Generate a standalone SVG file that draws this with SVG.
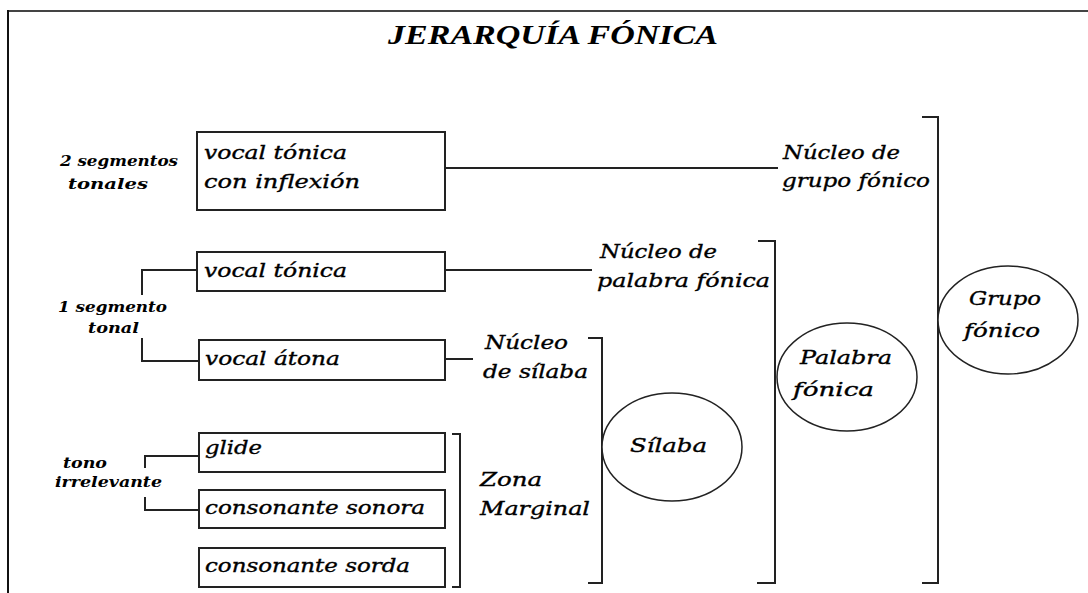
<svg xmlns="http://www.w3.org/2000/svg" width="1088" height="593" viewBox="0 0 1088 593">
<style>
text{font-family:"DejaVu Serif","Liberation Serif",serif;font-style:italic;fill:#000}
.t{font-family:"Liberation Serif","DejaVu Serif",serif;font-size:28px;font-weight:bold}
.b,.l,.e{stroke:#000;stroke-width:0.35}
.b{font-size:18px}
.s{font-size:14px;font-weight:bold}
.l{font-size:18px}
.e{font-size:19px}
.box{fill:#fff;stroke:#222;stroke-width:2}
.ell{fill:#fff;stroke:#222;stroke-width:1.5}
.c{fill:none;stroke:#222;stroke-width:2}
</style>
<rect width="1088" height="593" fill="#fff"/>
<g id="frame">
<line x1="8" y1="11" x2="1088" y2="11" stroke="#444" stroke-width="2"/>
<line x1="8" y1="10" x2="8" y2="593" stroke="#111" stroke-width="2"/>
</g>
<text class="t" x="388" y="44" textLength="330" lengthAdjust="spacingAndGlyphs">JERARQUÍA FÓNICA</text>
<g id="connectors">
<path class="c" d="M445,168H778"/>
<path class="c" d="M445,270H592"/>
<path class="c" d="M445,359H473"/>
<path class="c" d="M197,270H142V295"/>
<path class="c" d="M142,338V361H199"/>
<path class="c" d="M199,456H145V468"/>
<path class="c" d="M145,497V510H199"/>
<path class="c" d="M452,434H460V587H452"/>
<path class="c" d="M588,338H602V583H588"/>
<path class="c" d="M758,241H775V583H757"/>
<path class="c" d="M922,117H938V583H922"/>
</g>
<g id="lbl-2seg">
<text class="s" x="60" y="166" textLength="118" lengthAdjust="spacingAndGlyphs">2 segmentos</text>
<text class="s" x="68" y="189" textLength="80" lengthAdjust="spacingAndGlyphs">tonales</text>
</g>
<g id="lbl-1seg">
<text class="s" x="58" y="312" textLength="109" lengthAdjust="spacingAndGlyphs">1 segmento</text>
<text class="s" x="88" y="333" textLength="51" lengthAdjust="spacingAndGlyphs">tonal</text>
</g>
<g id="lbl-tono">
<text class="s" x="63" y="468" textLength="44" lengthAdjust="spacingAndGlyphs">tono</text>
<text class="s" x="55" y="487" textLength="107" lengthAdjust="spacingAndGlyphs">irrelevante</text>
</g>
<g id="box-inflexion">
<rect class="box" x="197" y="132" width="248" height="78"/>
<text class="b" x="204" y="159" textLength="143" lengthAdjust="spacingAndGlyphs">vocal tónica</text>
<text class="b" x="204" y="188" textLength="156" lengthAdjust="spacingAndGlyphs">con inflexión</text>
</g>
<g id="box-tonica">
<rect class="box" x="197" y="252" width="248" height="39"/>
<text class="b" x="204" y="277" textLength="143" lengthAdjust="spacingAndGlyphs">vocal tónica</text>
</g>
<g id="box-atona">
<rect class="box" x="199" y="340" width="246" height="40"/>
<text class="b" x="205" y="365" textLength="135" lengthAdjust="spacingAndGlyphs">vocal átona</text>
</g>
<g id="box-glide">
<rect class="box" x="199" y="433" width="246" height="39"/>
<text class="b" x="205" y="454" textLength="57" lengthAdjust="spacingAndGlyphs">glide</text>
</g>
<g id="box-sonora">
<rect class="box" x="199" y="490" width="246" height="38"/>
<text class="b" x="205" y="514" textLength="220" lengthAdjust="spacingAndGlyphs">consonante sonora</text>
</g>
<g id="box-sorda">
<rect class="box" x="199" y="548" width="246" height="39"/>
<text class="b" x="205" y="572" textLength="205" lengthAdjust="spacingAndGlyphs">consonante sorda</text>
</g>
<g id="lbl-nucleo-grupo">
<text class="l" x="783" y="159" textLength="117" lengthAdjust="spacingAndGlyphs">Núcleo de</text>
<text class="l" x="782" y="187" textLength="148" lengthAdjust="spacingAndGlyphs">grupo fónico</text>
</g>
<g id="lbl-nucleo-palabra">
<text class="l" x="600" y="258" textLength="117" lengthAdjust="spacingAndGlyphs">Núcleo de</text>
<text class="l" x="597" y="287" textLength="173" lengthAdjust="spacingAndGlyphs">palabra fónica</text>
</g>
<g id="lbl-nucleo-silaba">
<text class="l" x="485" y="349" textLength="83" lengthAdjust="spacingAndGlyphs">Núcleo</text>
<text class="l" x="483" y="378" textLength="105" lengthAdjust="spacingAndGlyphs">de sílaba</text>
</g>
<g id="lbl-zona">
<text class="l" x="480" y="486" textLength="62" lengthAdjust="spacingAndGlyphs">Zona</text>
<text class="l" x="480" y="515" textLength="110" lengthAdjust="spacingAndGlyphs">Marginal</text>
</g>
<g id="silaba">
<ellipse class="ell" cx="672" cy="447" rx="70" ry="54"/>
<text class="e" x="630" y="452" textLength="77" lengthAdjust="spacingAndGlyphs">Sílaba</text>
</g>
<g id="palabra">
<ellipse class="ell" cx="847" cy="377" rx="70" ry="54"/>
<text class="e" x="800" y="364" textLength="92" lengthAdjust="spacingAndGlyphs">Palabra</text>
<text class="e" x="793" y="396" textLength="81" lengthAdjust="spacingAndGlyphs">fónica</text>
</g>
<g id="grupo">
<ellipse class="ell" cx="1008" cy="320" rx="70" ry="54"/>
<text class="e" x="969" y="305" textLength="72" lengthAdjust="spacingAndGlyphs">Grupo</text>
<text class="e" x="964" y="337" textLength="76" lengthAdjust="spacingAndGlyphs">fónico</text>
</g>
</svg>
